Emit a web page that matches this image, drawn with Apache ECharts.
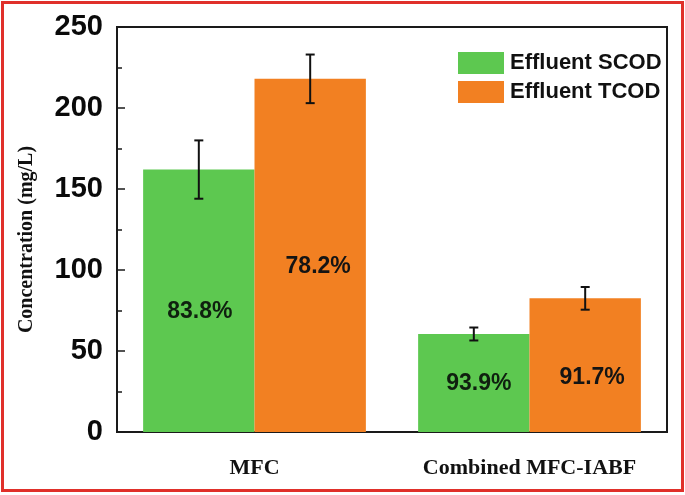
<!DOCTYPE html>
<html>
<head>
<meta charset="utf-8">
<script src="https://cdn.jsdelivr.net/npm/echarts@6/dist/echarts.min.js"></script>
<style>
html,body{margin:0;padding:0;background:#fff;}
#c{width:685px;height:495px;}
</style>
</head>
<body>
<div id="c"></div>
<script>
// ---- data ----
var categories = ['MFC', 'Combined MFC-IABF'];
var seriesNames = ['Effluent SCOD', 'Effluent TCOD'];
var scodValues = [162, 60.5];
var tcodValues = [218, 82.5];
var scodErr = [18, 4];
var tcodErr = [15, 7];
var scodLabels = ['83.8%', '93.9%'];
var tcodLabels = ['78.2%', '91.7%'];
var yTicks = [0, 50, 100, 150, 200, 250];

// ---- styling (positions of in-bar texts, px) ----
var scodLabelRise = [120, 48];
var tcodLabelRise = [165, 54];
var scodLabelShift = [1, 5];
var tcodLabelShift = [8, 7];

var GREEN = '#5DC850';
var ORANGE = '#F28022';
var CAT_GAP = 0.19;

function barData(values, labels, rise, shift, color) {
  return values.map(function (v, i) {
    return {
      value: v,
      label: {
        show: true,
        formatter: labels[i],
        position: 'insideBottom',
        distance: 0,
        verticalAlign: 'middle',
        offset: [shift[i], -rise[i]],
        fontFamily: 'Liberation Sans, Arial, sans-serif',
        fontWeight: 'bold',
        fontSize: 23,
        color: color
      }
    };
  });
}

var errData = [];
categories.forEach(function (c, i) {
  errData.push([i, scodValues[i] - scodErr[i], scodValues[i] + scodErr[i], 0]);
  errData.push([i, tcodValues[i] - tcodErr[i], tcodValues[i] + tcodErr[i], 1]);
});

var chart = echarts.init(document.getElementById('c'), null, {renderer: 'canvas'});
var option = {
  animation: false,
  backgroundColor: '#fff',
  graphic: [{
    type: 'rect',
    shape: {x: 2.5, y: 2.5, width: 680, height: 488},
    style: {fill: 'none', stroke: '#E0302A', lineWidth: 3},
    silent: true
  }],
  grid: {
    left: 117, right: 18, top: 27, bottom: 63,
    show: true, borderColor: '#1a1a1a', borderWidth: 2, backgroundColor: 'transparent'
  },
  legend: {
    left: 453, top: 47,
    orient: 'vertical',
    itemWidth: 46, itemHeight: 22, itemGap: 7,
    icon: 'rect',
    data: seriesNames,
    textStyle: {
      fontFamily: 'Liberation Sans, Arial, sans-serif',
      fontWeight: 'bold', fontSize: 22, color: '#111', padding: [0, 0, 0, 1]
    }
  },
  xAxis: {
    type: 'category',
    data: categories,
    axisLine: {lineStyle: {color: '#1a1a1a', width: 2}},
    axisTick: {show: false},
    axisLabel: {
      interval: 0,
      hideOverlap: false,
      margin: 25,
      fontFamily: 'Liberation Serif, Times New Roman, serif',
      fontWeight: 'bold', fontSize: 22, color: '#111'
    }
  },
  yAxis: {
    type: 'value',
    min: 0, max: 250, interval: 50,
    name: 'Concentration (mg/L)',
    nameLocation: 'middle',
    nameGap: 80,
    nameRotate: 90,
    nameTextStyle: {
      fontFamily: 'Liberation Serif, Times New Roman, serif',
      fontWeight: 'bold', fontSize: 20, color: '#111',
      padding: [0, 20, 0, 0]
    },
    axisLine: {show: true, lineStyle: {color: '#1a1a1a', width: 2}},
    axisTick: {show: true, inside: true, length: 8, lineStyle: {color: '#1a1a1a', width: 1.5}},
    minorTick: {show: true, splitNumber: 2, length: 5, lineStyle: {color: '#1a1a1a', width: 1.5}},
    splitLine: {show: false},
    axisLabel: {
      margin: 14,
      fontFamily: 'Liberation Sans, Arial, sans-serif',
      fontWeight: 'bold', fontSize: 29, color: '#0a0a0a',
      formatter: function (v) { return yTicks.indexOf(v) >= 0 ? String(v) : ''; }
    }
  },
  series: [{
    name: seriesNames[0],
    type: 'bar',
    barGap: '0%',
    barCategoryGap: (CAT_GAP * 100) + '%',
    itemStyle: {color: GREEN},
    data: barData(scodValues, scodLabels, scodLabelRise, scodLabelShift, '#0f200f')
  }, {
    name: seriesNames[1],
    type: 'bar',
    barGap: '0%',
    barCategoryGap: (CAT_GAP * 100) + '%',
    itemStyle: {color: ORANGE},
    data: barData(tcodValues, tcodLabels, tcodLabelRise, tcodLabelShift, '#141414')
  }, {
    type: 'custom',
    name: 'err',
    z: 10,
    data: errData,
    renderItem: function (params, api) {
      var ci = api.value(0);
      var lo = api.coord([ci, api.value(1)]);
      var hi = api.coord([ci, api.value(2)]);
      var band = api.size([1, 0])[0];
      var bw = band * (1 - CAT_GAP) / 2;
      var x = lo[0] + (api.value(3) === 0 ? -0.5 : 0.5) * bw;
      var cap = 4.5;
      var st = {stroke: '#111', lineWidth: 2, fill: 'none'};
      return {
        type: 'group',
        children: [
          {type: 'line', shape: {x1: x, y1: lo[1], x2: x, y2: hi[1]}, style: st},
          {type: 'line', shape: {x1: x - cap, y1: lo[1], x2: x + cap, y2: lo[1]}, style: st},
          {type: 'line', shape: {x1: x - cap, y1: hi[1], x2: x + cap, y2: hi[1]}, style: st}
        ]
      };
    }
  }]
};
chart.setOption(option);
</script>
</body>
</html>
